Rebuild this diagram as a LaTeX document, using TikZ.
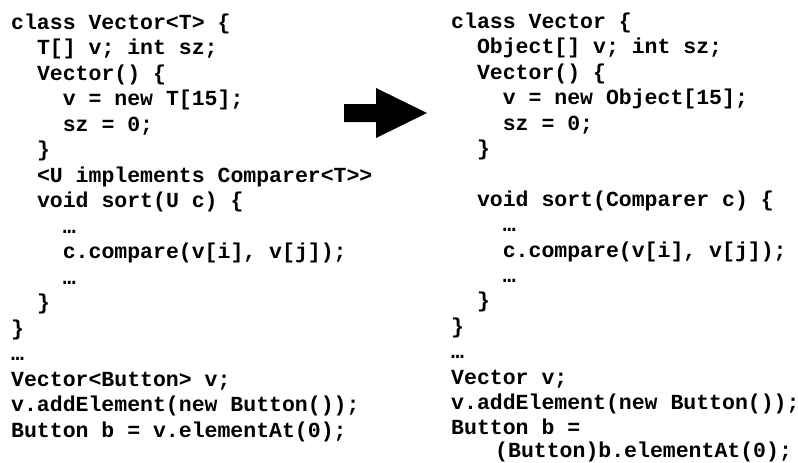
\documentclass[tikz,border=0pt]{standalone}
\usepackage{fontspec}
\newfontfamily\codefont{Liberation Mono}
\tikzset{
  code/.style={anchor=base west, inner sep=0pt, font=\codefont\bfseries\fontsize{21.5}{25}\selectfont},
  bigarrow/.style={fill=black, draw=none}
}
\begin{document}
\begin{tikzpicture}[x=1pt,y=-1pt]
\useasboundingbox[fill=white] (0,0) rectangle (798,463);
% left panel
\node[code] (L0)  at (11,29)      {class Vector<T> \{};
\node[code] (L1)  at (36.8,54.5)  {T[] v; int sz;};
\node[code] (L2)  at (36.8,80)    {Vector() \{};
\node[code] (L3)  at (62.6,105.5) {v = new T[15];};
\node[code] (L4)  at (62.6,131)   {sz = 0;};
\node[code] (L5)  at (36.8,156.5) {\}};
\node[code] (L6)  at (36.8,182)   {<U implements Comparer<T>>};
\node[code] (L7)  at (36.8,207.5) {void sort(U c) \{};
\node[code] (L8)  at (62.6,233)   {…};
\node[code] (L9)  at (62.6,258.5) {c.compare(v[i], v[j]);};
\node[code] (L10) at (62.6,284)   {…};
\node[code] (L11) at (36.8,309.5) {\}};
\node[code] (L12) at (11,335)     {\}};
\node[code] (L13) at (11,360.5)   {…};
\node[code] (L14) at (11,386)     {Vector<Button> v;};
\node[code] (L15) at (11,411.5)   {v.addElement(new Button());};
\node[code] (L16) at (11,437)     {Button b = v.elementAt(0);};
% arrow
\fill[bigarrow] (344,104) -- (376,104) -- (376,88) -- (427,113) -- (376,138) -- (376,122) -- (344,122) -- cycle;
% right panel
\node[code] (R0)  at (451,28.5)    {class Vector \{};
\node[code] (R1)  at (476.8,53.9)  {Object[] v; int sz;};
\node[code] (R2)  at (476.8,79.3)  {Vector() \{};
\node[code] (R3)  at (502.6,104.7) {v = new Object[15];};
\node[code] (R4)  at (502.6,130.1) {sz = 0;};
\node[code] (R5)  at (476.8,155.5) {\}};
\node[code] (R7)  at (476.8,206.3) {void sort(Comparer c) \{};
\node[code] (R8)  at (502.6,231.7) {…};
\node[code] (R9)  at (502.6,257.1) {c.compare(v[i], v[j]);};
\node[code] (R10) at (502.6,282.5) {…};
\node[code] (R11) at (476.8,307.9) {\}};
\node[code] (R12) at (451,333.3)   {\}};
\node[code] (R13) at (451,358.7)   {…};
\node[code] (R14) at (451,384.1)   {Vector v;};
\node[code] (R15) at (451,409.5)   {v.addElement(new Button());};
\node[code] (R16) at (451,434.9)   {Button b =};
\node[code] (R17) at (495,457)     {(Button)b.elementAt(0);};
\end{tikzpicture}
\end{document}
